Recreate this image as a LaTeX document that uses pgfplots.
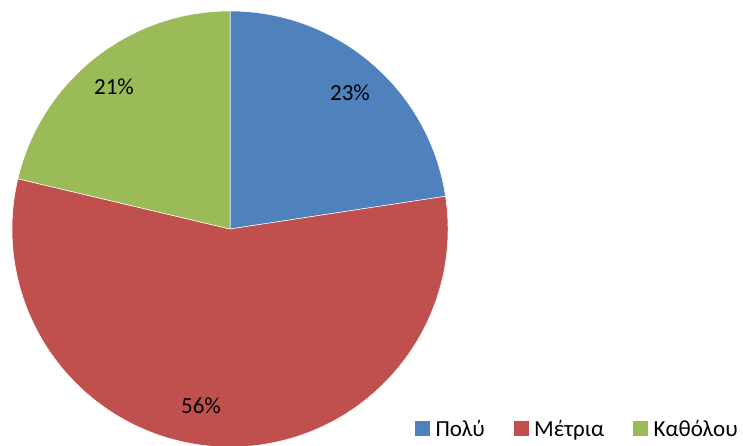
\documentclass[border=0pt]{standalone}
\usepackage{pgfplots}
\pgfplotsset{compat=1.18}
\usepackage{pgfplotstable}
\usepackage{fontspec}
\setmainfont{Carlito}
\definecolor{cblue}{RGB}{79,129,189}
\definecolor{cred}{RGB}{192,80,77}
\definecolor{cgreen}{RGB}{155,187,89}

\pgfplotstableread{
label value
Polu 22.6
Metria 56.1
Katholou 21.3
}\piedata

\pgfplotstablegetelem{0}{value}\of\piedata \xdef\va{\pgfplotsretval}
\pgfplotstablegetelem{1}{value}\of\piedata \xdef\vb{\pgfplotsretval}
\pgfplotstablegetelem{2}{value}\of\piedata \xdef\vc{\pgfplotsretval}
\pgfmathsetmacro{\aA}{90}
\pgfmathsetmacro{\aB}{90-\va*3.6}
\pgfmathsetmacro{\aC}{\aB-\vb*3.6}
\pgfmathsetmacro{\aD}{\aC-\vc*3.6}

\begin{document}
\begin{tikzpicture}
\begin{axis}[
  x=1pt, y=1pt,
  xmin=0, xmax=743, ymin=0, ymax=446,
  hide axis,
  clip=true,
  font=\fontsize{23}{27}\selectfont,
  legend columns=3,
  legend style={at={(axis cs:415,17.3)}, anchor=west, draw=none, fill=none,
    inner sep=0pt, font=\fontsize{23}{27}\selectfont,
    nodes={inner sep=0pt}},
  /tikz/every odd column/.append style={column sep=6pt},
  /tikz/every even column/.append style={column sep=29pt},
]
\fill[cblue, draw=white, line width=0.5pt] (axis cs:230,217) -- ++(\aA:218pt) arc[start angle=\aA, end angle=\aB, radius=218pt] -- cycle;
\fill[cred, draw=white, line width=0.5pt] (axis cs:230,217) -- ++(\aB:218pt) arc[start angle=\aB, end angle=\aC, radius=218pt] -- cycle;
\fill[cgreen, draw=white, line width=0.5pt] (axis cs:230,217) -- ++(\aC:218pt) arc[start angle=\aC, end angle=\aD, radius=218pt] -- cycle;
\node at (axis cs:350,353) {23\%};
\node at (axis cs:114,359) {21\%};
\node at (axis cs:201,40) {56\%};
\addlegendimage{legend image code/.code={\fill[cblue] (0pt,-7pt) rectangle (14pt,7pt);}}
\addlegendentry{Πολύ}
\addlegendimage{legend image code/.code={\fill[cred] (0pt,-7pt) rectangle (14pt,7pt);}}
\addlegendentry{Μέτρια}
\addlegendimage{legend image code/.code={\fill[cgreen] (0pt,-7pt) rectangle (14pt,7pt);}}
\addlegendentry{Καθόλου}
\end{axis}
\pgfresetboundingbox
\path[use as bounding box] (current axis.south west) rectangle (current axis.north east);
\end{tikzpicture}
\end{document}
